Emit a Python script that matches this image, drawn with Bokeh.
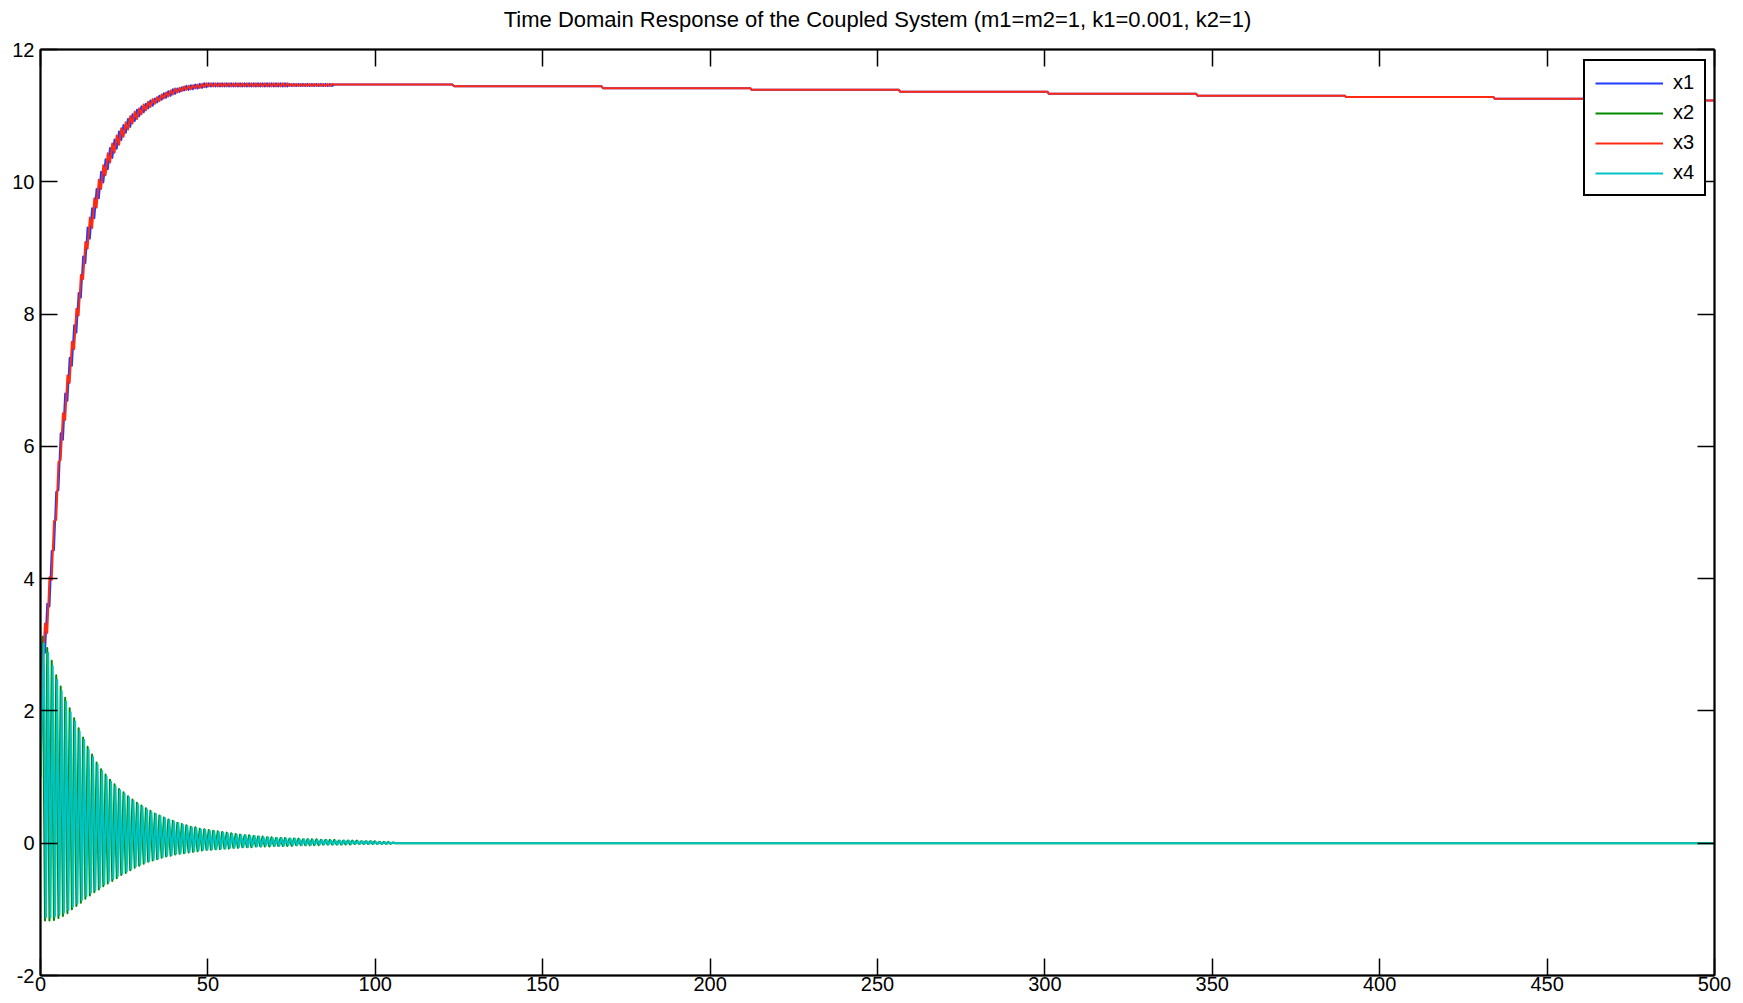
from bokeh.plotting import figure
from bokeh.models import Range1d, LinearAxis, FixedTicker, Legend, LegendItem
from bokeh.embed import file_html
from bokeh.resources import INLINE

TITLE = "Time Domain Response of the Coupled System (m1=m2=1, k1=0.001, k2=1)"
series_names = ["x1", "x2", "x3", "x4"]
x_ticks = [0, 50, 100, 150, 200, 250, 300, 350, 400, 450, 500]
y_ticks = [-2, 0, 2, 4, 6, 8, 10, 12]

# solver output sample times during the oscillating phase (step 0.67 s)
t_osc = [round(0.67 * k, 2) for k in range(159)]

# x1 values at the sample times
x1_osc = [2.6, 3.12, 2.88, 3.62, 3.58, 4.42, 4.43, 5.31, 5.34, 6.20,
          6.10, 6.80, 6.69, 7.34, 7.22, 7.83, 7.72, 8.32, 8.25, 8.87,
          8.77, 9.31, 9.14, 9.60, 9.45, 9.89, 9.75, 10.15, 9.99, 10.34,
          10.19, 10.51, 10.36, 10.64, 10.50, 10.76, 10.63, 10.86, 10.74, 10.95,
          10.83, 11.02, 10.92, 11.09, 10.99, 11.14, 11.05, 11.18, 11.11, 11.23,
          11.15, 11.26, 11.20, 11.30, 11.24, 11.34, 11.27, 11.37, 11.30, 11.40,
          11.33, 11.41, 11.36, 11.43, 11.38, 11.45, 11.39, 11.46, 11.40, 11.47,
          11.41, 11.48, 11.42, 11.49, 11.43] \
    + [11.49, 11.44] * 18 + [11.48, 11.45] * 10 + [11.47] * 28

# x3 values at the sample times
x3_osc = [1.7, 2.68, 3.32, 3.18, 4.02, 3.98, 4.87, 4.89, 5.76, 5.80,
          6.50, 6.40, 7.07, 6.96, 7.58, 7.47, 8.08, 7.98, 8.59, 8.53,
          9.09, 8.99, 9.46, 9.30, 9.75, 9.61, 10.03, 9.89, 10.25, 10.10,
          10.43, 10.29, 10.58, 10.44, 10.70, 10.56, 10.81, 10.68, 10.90, 10.79,
          10.99, 10.88, 11.06, 10.95, 11.11, 11.02, 11.17, 11.08, 11.21, 11.13,
          11.25, 11.18, 11.28, 11.22, 11.32, 11.26, 11.35, 11.29, 11.38, 11.32,
          11.41, 11.35, 11.42, 11.37, 11.44, 11.39, 11.45, 11.40, 11.46, 11.41,
          11.47, 11.42, 11.48, 11.43, 11.49] \
    + [11.44, 11.49] * 18 + [11.45, 11.48] * 10 + [11.47] * 28

# slow drift of x1 / x3 after the oscillation has died out
tail_t = [123.0, 123.6, 167.6, 168.0, 212.0, 212.4, 256.4, 256.8, 300.8, 301.2,
          345.2, 345.6, 389.6, 390.0, 434.0, 434.4, 478.4, 478.8, 500.0]
tail_v = [11.47, 11.445, 11.445, 11.415, 11.415, 11.39, 11.39, 11.36, 11.36, 11.33,
          11.33, 11.30, 11.30, 11.28, 11.28, 11.255, 11.255, 11.23, 11.23]

# x2: start value, then peak / trough of every cycle
x2_start = 1.0
x2_peaks = [3.12, 2.95, 2.76, 2.54, 2.37, 2.20, 2.04, 1.89, 1.74, 1.60,
            1.46, 1.34, 1.22, 1.12, 1.04, 0.96, 0.89, 0.82, 0.77, 0.71,
            0.66, 0.61, 0.57, 0.53, 0.49, 0.45, 0.42, 0.39, 0.36, 0.34,
            0.31, 0.29, 0.27, 0.25, 0.24, 0.22, 0.21, 0.20, 0.19, 0.18,
            0.17, 0.16, 0.15, 0.14, 0.13, 0.12, 0.12, 0.11, 0.10, 0.10,
            0.09, 0.09, 0.08, 0.08, 0.08, 0.07, 0.07, 0.07, 0.06, 0.06,
            0.06, 0.06, 0.05, 0.05, 0.05, 0.05, 0.04, 0.04, 0.04, 0.04,
            0.04, 0.03, 0.03, 0.03, 0.03, 0.02, 0.02, 0.02, 0.01]
x2_troughs = [-1.17, -1.17, -1.16, -1.13, -1.10, -1.06, -1.00, -0.95, -0.90, -0.84,
              -0.79, -0.74, -0.70, -0.65, -0.61, -0.57, -0.53, -0.48, -0.45, -0.41,
              -0.37, -0.34, -0.31, -0.28, -0.26, -0.24, -0.22, -0.20, -0.19, -0.17,
              -0.16, -0.15, -0.14, -0.13, -0.12, -0.11, -0.10, -0.10, -0.09, -0.09,
              -0.08, -0.08, -0.07, -0.07, -0.06, -0.06, -0.06, -0.05, -0.05, -0.05,
              -0.05, -0.04, -0.04, -0.04, -0.04, -0.04, -0.03, -0.03, -0.03, -0.03,
              -0.03, -0.03, -0.02, -0.02, -0.02, -0.02, -0.02, -0.02, -0.02, -0.01,
              -0.01, -0.01, -0.01, -0.01, -0.01, -0.01, -0.01, -0.01, 0.00]

# x4: start value, then peak / trough of every cycle
x4_start = 1.0
x4_peaks = [3.02, 2.88, 2.68, 2.47, 2.30, 2.14, 1.98, 1.84, 1.69, 1.56,
            1.42, 1.30, 1.19, 1.09, 1.01, 0.93, 0.86, 0.80, 0.75, 0.69,
            0.64, 0.59, 0.55, 0.51, 0.47, 0.44, 0.41, 0.38, 0.35, 0.33,
            0.30, 0.28, 0.26, 0.24, 0.23, 0.21, 0.20, 0.19, 0.18, 0.17,
            0.16, 0.15, 0.14, 0.13, 0.12, 0.12, 0.11, 0.11, 0.10, 0.09,
            0.09, 0.08, 0.08, 0.08, 0.07, 0.07, 0.07, 0.06, 0.06, 0.06,
            0.05, 0.05, 0.05, 0.05, 0.04, 0.04, 0.04, 0.04, 0.04, 0.03,
            0.03, 0.03, 0.03, 0.03, 0.02, 0.02, 0.02, 0.01, 0.01]
x4_troughs = [-1.12, -1.12, -1.11, -1.08, -1.05, -1.01, -0.96, -0.91, -0.86, -0.80,
              -0.75, -0.71, -0.67, -0.62, -0.58, -0.54, -0.50, -0.46, -0.43, -0.39,
              -0.35, -0.32, -0.29, -0.27, -0.25, -0.23, -0.21, -0.19, -0.18, -0.16,
              -0.15, -0.14, -0.13, -0.12, -0.11, -0.10, -0.10, -0.09, -0.09, -0.08,
              -0.08, -0.07, -0.07, -0.06, -0.06, -0.06, -0.05, -0.05, -0.05, -0.04,
              -0.04, -0.04, -0.04, -0.04, -0.03, -0.03, -0.03, -0.03, -0.03, -0.03,
              -0.02, -0.02, -0.02, -0.02, -0.02, -0.02, -0.02, -0.01, -0.01, -0.01,
              -0.01, -0.01, -0.01, -0.01, -0.01, -0.01, -0.01, 0.00, 0.00]
x4_phase_lag = 0.3
t_end = 500.0
end_value = 0.0

colors = {"x1": "#1f3cff", "x2": "#008a00", "x3": "#ff2a12", "x4": "#00c4c4"}
FONT = "Liberation Sans"


def interleave(start, peaks, troughs):
    out = [start]
    for a, b in zip(peaks, troughs):
        out += [a, b]
    return out


x2_osc = interleave(x2_start, x2_peaks, x2_troughs)
x4_osc = interleave(x4_start, x4_peaks, x4_troughs)

n1 = min(len(t_osc), len(x1_osc))
n3 = min(len(t_osc), len(x3_osc))
n2 = min(len(t_osc), len(x2_osc))
n4 = min(len(t_osc), len(x4_osc))

t1 = t_osc[:n1] + tail_t
y1 = x1_osc[:n1] + tail_v
t3 = t_osc[:n3] + tail_t
y3 = x3_osc[:n3] + tail_v
t2 = t_osc[:n2] + [t_end]
y2 = x2_osc[:n2] + [end_value]
t4 = [t_osc[0]] + [t + x4_phase_lag for t in t_osc[1:n4]] + [t_end]
y4 = x4_osc[:n4] + [end_value]

p = figure(width=1743, height=1002, x_range=Range1d(0, 500), y_range=Range1d(-2, 12),
           output_backend="svg", toolbar_location=None,
           min_border_left=40, min_border_right=29, min_border_top=49, min_border_bottom=27,
           background_fill_color="white", border_fill_color="white")
p.grid.visible = False
p.outline_line_color = "black"
p.outline_line_width = 1.5

bottom_axis = p.xaxis[0]
left_axis = p.yaxis[0]
bottom_axis.ticker = FixedTicker(ticks=x_ticks)
left_axis.ticker = FixedTicker(ticks=y_ticks)
left_axis.major_label_overrides = {-2: "-2"}

top_axis = LinearAxis(ticker=FixedTicker(ticks=x_ticks))
right_axis = LinearAxis(ticker=FixedTicker(ticks=y_ticks))
p.add_layout(top_axis, "above")
p.add_layout(right_axis, "right")

for ax in [bottom_axis, left_axis, top_axis, right_axis]:
    ax.axis_line_width = 2
    ax.axis_line_color = "black"
    ax.major_tick_in = 17
    ax.major_tick_out = 0
    ax.minor_tick_in = 0
    ax.minor_tick_out = 0
    ax.major_tick_line_width = 1.5
    ax.major_tick_line_color = "black"
    ax.major_label_text_font = FONT
    ax.major_label_text_font_size = "20px"
    ax.major_label_text_color = "black"

bottom_axis.major_label_standoff = 1
left_axis.major_label_standoff = 6

# mirror axes: ticks only
top_axis.major_label_overrides = {t: "" for t in x_ticks}
right_axis.major_label_overrides = {t: "" for t in y_ticks}
for ax in [top_axis, right_axis]:
    ax.major_label_text_color = None
    ax.major_label_standoff = 0

# chart title, centred over the plot area
top_axis.axis_label = TITLE
top_axis.axis_label_text_font = FONT
top_axis.axis_label_text_font_size = "22px"
top_axis.axis_label_text_font_style = "normal"
top_axis.axis_label_text_color = "black"
top_axis.axis_label_standoff = 18

lw = 2
r1 = p.line(t1, y1, line_color=colors["x1"], line_width=lw, line_join="round")
r2 = p.line(t2, y2, line_color=colors["x2"], line_width=lw, line_join="round")
r3 = p.line(t3, y3, line_color=colors["x3"], line_width=lw, line_join="round")
r4 = p.line(t4, y4, line_color=colors["x4"], line_width=lw, line_join="round")

legend = Legend(items=[LegendItem(label=n, renderers=[r]) for n, r in zip(series_names, [r1, r2, r3, r4])],
                location=(1543, 779))
legend.label_text_font = FONT
legend.label_text_font_size = "20px"
legend.label_text_color = "black"
legend.glyph_width = 68
legend.glyph_height = 20
legend.spacing = 7
legend.padding = 10
legend.label_standoff = 10
legend.border_line_color = "black"
legend.border_line_alpha = 1.0
legend.border_line_width = 2
legend.background_fill_color = "white"
legend.background_fill_alpha = 1.0
legend.margin = 0
p.add_layout(legend)

open("out.html", "w").write(file_html(p, INLINE))
